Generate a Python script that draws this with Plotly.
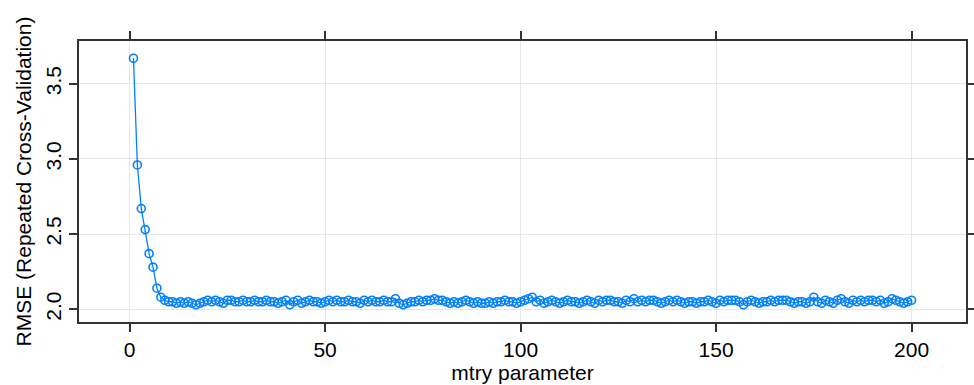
import plotly.graph_objects as go

mtry = list(range(1, 201))
rmse = [
    3.67, 2.96, 2.67, 2.53, 2.37, 2.28, 2.14, 2.08, 2.06, 2.05,
    2.05, 2.04, 2.05, 2.04, 2.05, 2.04, 2.03, 2.04, 2.05, 2.06,
    2.05, 2.06, 2.05, 2.04, 2.06, 2.06, 2.05, 2.05, 2.06, 2.05,
    2.05, 2.06, 2.05, 2.05, 2.06, 2.05, 2.05, 2.04, 2.05, 2.06,
    2.03, 2.05, 2.06, 2.04, 2.05, 2.06, 2.05, 2.05, 2.04, 2.05,
    2.06, 2.05, 2.06, 2.05, 2.05, 2.06, 2.05, 2.05, 2.04, 2.06,
    2.05, 2.06, 2.05, 2.05, 2.06, 2.05, 2.05, 2.07, 2.04, 2.03,
    2.04, 2.05, 2.05, 2.06, 2.05, 2.06, 2.06, 2.07, 2.06, 2.06,
    2.05, 2.04, 2.05, 2.04, 2.05, 2.06, 2.05, 2.04, 2.05, 2.04,
    2.04, 2.05, 2.04, 2.05, 2.05, 2.06, 2.05, 2.05, 2.04, 2.05,
    2.06, 2.07, 2.08, 2.05, 2.06, 2.04, 2.05, 2.06, 2.05, 2.04,
    2.05, 2.06, 2.05, 2.05, 2.04, 2.05, 2.06, 2.05, 2.04, 2.06,
    2.05, 2.06, 2.06, 2.05, 2.05, 2.04, 2.06, 2.05, 2.07, 2.05,
    2.06, 2.05, 2.06, 2.06, 2.05, 2.04, 2.05, 2.06, 2.05, 2.06,
    2.05, 2.04, 2.05, 2.05, 2.04, 2.05, 2.05, 2.06, 2.05, 2.04,
    2.06, 2.05, 2.06, 2.06, 2.06, 2.05, 2.03, 2.05, 2.06, 2.05,
    2.04, 2.05, 2.05, 2.06, 2.05, 2.06, 2.06, 2.06, 2.05, 2.04,
    2.05, 2.05, 2.04, 2.05, 2.08, 2.05, 2.04, 2.06, 2.05, 2.04,
    2.06, 2.07, 2.05, 2.04, 2.06, 2.05, 2.06, 2.05, 2.06, 2.06,
    2.05, 2.06, 2.04, 2.05, 2.07, 2.06, 2.05, 2.04, 2.05, 2.06,
]
x_ticks = [0, 50, 100, 150, 200]
y_ticks = [2.0, 2.5, 3.0, 3.5]
y_tick_labels = ["2.0", "2.5", "3.0", "3.5"]

BLUE = "#0080ff"
FONT = "Liberation Sans, Arial, sans-serif"

fig = go.Figure()
fig.add_trace(go.Scatter(
    x=mtry, y=rmse, mode="lines+markers",
    line=dict(color=BLUE, width=1.3),
    marker=dict(symbol="circle-open", size=8, color=BLUE, line=dict(width=1.6, color=BLUE)),
    showlegend=False,
))

xr = (max(mtry) - min(mtry)) * 0.07
yr = (max(rmse) - min(rmse)) * 0.07

axis_common = dict(
    showline=True, linecolor="#333333", linewidth=1.5, mirror="ticks",
    ticks="outside", ticklen=8, tickwidth=1.5, tickcolor="#333333",
    showgrid=True, gridcolor="#e6e6e6", gridwidth=1, zeroline=False,
    tickfont=dict(family=FONT, size=21, color="#000000"),
    automargin=False,
)

fig.update_layout(
    width=974, height=385,
    margin=dict(l=79, r=8, t=41, b=63),
    paper_bgcolor="white", plot_bgcolor="white",
    font=dict(family=FONT, size=21, color="#000000"),
    xaxis=dict(
        range=[min(mtry) - xr, max(mtry) + xr],
        tickvals=x_ticks,
        title=dict(text="mtry parameter", font=dict(family=FONT, size=21), standoff=4),
        **axis_common,
    ),
    yaxis=dict(
        range=[min(rmse) - yr, max(rmse) + yr],
        tickvals=y_ticks, ticktext=y_tick_labels, tickangle=-90,
        title=dict(text="RMSE (Repeated Cross-Validation)", font=dict(family=FONT, size=21), standoff=4),
        **axis_common,
    ),
)

fig.write_html("out.html")
